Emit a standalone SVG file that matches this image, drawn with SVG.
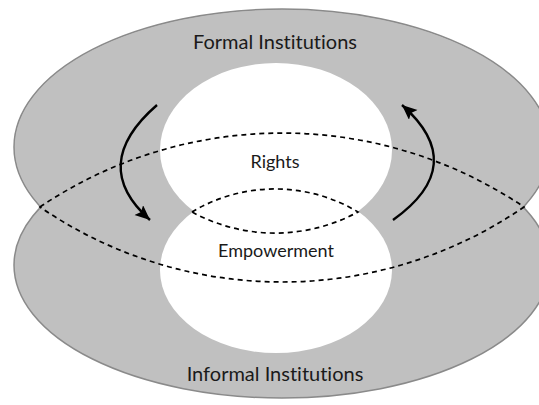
<svg xmlns="http://www.w3.org/2000/svg" width="539" height="405" viewBox="0 0 539 405">
<defs>
<style>
.outer{fill:#c0c0c0;stroke:#8a8a8a;stroke-width:1.5}
.outerfill{fill:#c0c0c0;stroke:none}
.inner{fill:#ffffff;stroke:none}
.dash{fill:none;stroke:#000;stroke-width:1.7;stroke-dasharray:5 4}
.arrow{fill:none;stroke:#000;stroke-width:2.4;marker-end:url(#ah)}
text{font-family:Lato,"Open Sans","Liberation Sans",sans-serif;fill:#1a1a1a;text-anchor:middle;font-variant-ligatures:none;font-feature-settings:"liga" 0,"dlig" 0}
.big{font-size:20px}
.mid{font-size:18px}
</style>
<marker id="ah" markerUnits="userSpaceOnUse" markerWidth="17" markerHeight="14" refX="15" refY="6.5" orient="auto">
<path d="M0,0 L15,6.5 L0,13 L3,6.5 Z" fill="#000"/>
</marker>
</defs>
<g id="formal-institutions">
<ellipse class="outer" cx="282" cy="147" rx="268" ry="138"/>
</g>
<g id="informal-institutions">
<ellipse class="outer" cx="282" cy="265" rx="268" ry="133"/>
<ellipse class="outerfill" cx="282" cy="147" rx="267" ry="137"/>
</g>
<g id="rights">
<ellipse class="inner" cx="276" cy="150" rx="116" ry="87"/>
</g>
<g id="empowerment">
<ellipse class="inner" cx="276" cy="270" rx="116" ry="83"/>
</g>
<g id="connectors">
<path class="dash" d="M40,207 A433,433 0 0 1 524,207 A428,428 0 0 1 40,207 Z"/>
<path class="dash" d="M192,212 A161,161 0 0 1 358,212 A174,174 0 0 1 192,212 Z"/>
<path class="arrow" d="M157,105 Q88,165 150,220"/>
<path class="arrow" d="M393,220 Q470,165 402,105"/>
</g>
<g id="labels">
<text class="big" x="275" y="49">Formal Institutions</text>
<text class="mid" x="275" y="168">Rights</text>
<text class="mid" x="276" y="257">Empowerment</text>
<text class="big" x="275" y="381">Informal Institutions</text>
</g>
</svg>
